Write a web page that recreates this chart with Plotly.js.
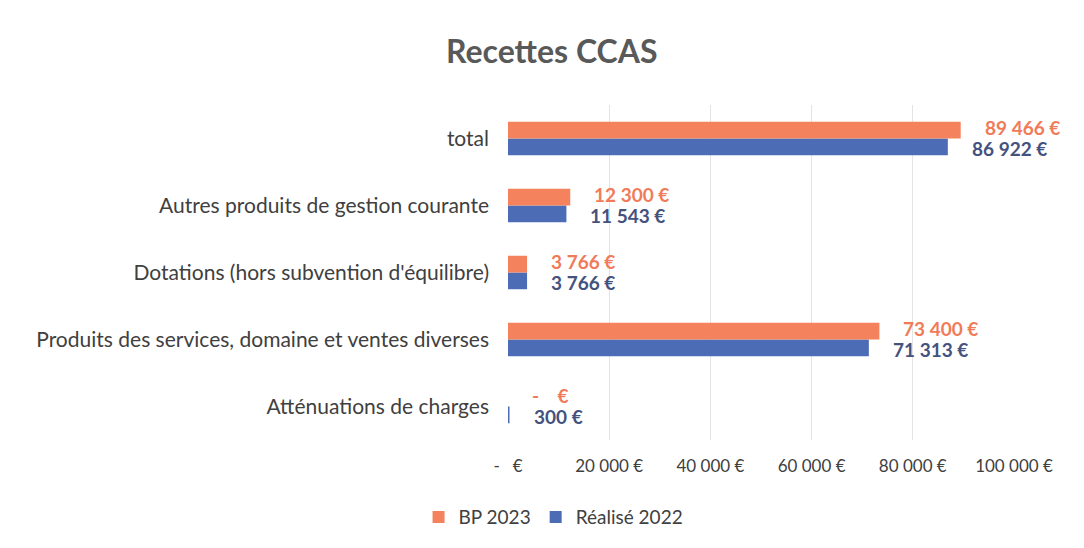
<!DOCTYPE html>
<html>
<head>
<meta charset="utf-8">
<script src="https://cdn.plot.ly/plotly-3.0.1.min.js"></script>
<style>html,body{margin:0;padding:0;background:#fff;}#chart{width:1084px;height:548px;}</style>
</head>
<body>
<div id="chart"></div>
<script>
const categories = [
  'Atténuations de charges',
  'Produits des services, domaine et ventes diverses',
  "Dotations (hors subvention d'équilibre)",
  'Autres produits de gestion courante',
  'total'
];
const bp2023 = [0, 73400, 3766, 12300, 89466];
const realise2022 = [300, 71313, 3766, 11543, 86922];
const seriesNames = ['BP 2023', 'Réalisé 2022'];
const xTickVals = [0, 20000, 40000, 60000, 80000, 100000];
const xTickText = ['-\u00A0\u00A0\u00A0€', '20 000 €', '40 000 €', '60 000 €', '80 000 €', '100 000 €'];

const ORANGE = '#F4825C', BLUE = '#4D6CB6';
const ORANGE_TXT = '#F07B58', BLUE_TXT = '#44527E';
const FONT = 'Lato, "Open Sans", sans-serif';

function fmt(v) {
  if (v === 0) return '-\u00A0\u00A0\u00A0\u00A0€';
  return String(v).replace(/\B(?=(\d{3})+(?!\d))/g, '\u00A0') + '\u00A0€';
}

const traces = [
  {type: 'bar', orientation: 'h', name: seriesNames[1], y: categories, x: realise2022,
   marker: {color: BLUE}, legendrank: 2, hoverinfo: 'x'},
  {type: 'bar', orientation: 'h', name: seriesNames[0], y: categories, x: bp2023,
   marker: {color: ORANGE}, legendrank: 1, hoverinfo: 'x'}
];

const annotations = [];
categories.forEach((c, i) => {
  annotations.push({x: bp2023[i], y: c, xref: 'x', yref: 'y', text: fmt(bp2023[i]),
    showarrow: false, xanchor: 'left', yanchor: 'middle', xshift: 22, yshift: 11,
    font: {family: FONT, size: 19, color: ORANGE_TXT, weight: 'bold'}});
  annotations.push({x: realise2022[i], y: c, xref: 'x', yref: 'y', text: fmt(realise2022[i]),
    showarrow: false, xanchor: 'left', yanchor: 'middle', xshift: 22, yshift: -10,
    font: {family: FONT, size: 19, color: BLUE_TXT, weight: 'bold'}});
});

const layout = {
  width: 1084, height: 548,
  margin: {l: 508, r: 70, t: 105, b: 104},
  paper_bgcolor: '#fff', plot_bgcolor: '#fff',
  font: {family: FONT, color: '#404040', size: 18},
  title: {text: '<b>Recettes CCAS</b>', x: 0.509, xanchor: 'center', y: 0.905, yanchor: 'middle',
          font: {family: FONT, size: 32, color: '#595959'}},
  barmode: 'group', bargap: 0.5, bargroupgap: 0,
  xaxis: {range: [0, 100000], tickvals: xTickVals, ticktext: xTickText,
          showgrid: true, gridcolor: '#e4e4e4', gridwidth: 1, zeroline: false,
          showline: false, ticks: '', ticklabelstandoff: 14,
          tickfont: {family: FONT, size: 17, color: '#404040'}, fixedrange: true},
  yaxis: {type: 'category', categoryorder: 'array', categoryarray: categories,
          showgrid: false, zeroline: false, showline: false, ticks: '', ticklabelstandoff: 18,
          tickfont: {family: FONT, size: 21, color: '#404040'}, fixedrange: true},
  showlegend: true,
  legend: {orientation: 'h', x: 0.09, xanchor: 'center', y: -0.23, yanchor: 'middle',
           font: {family: FONT, size: 19, color: '#404040'}, itemwidth: 30, traceorder: 'normal'},
  annotations: annotations
};

Plotly.newPlot('chart', traces, layout, {displayModeBar: false, staticPlot: true});
</script>
</body>
</html>
